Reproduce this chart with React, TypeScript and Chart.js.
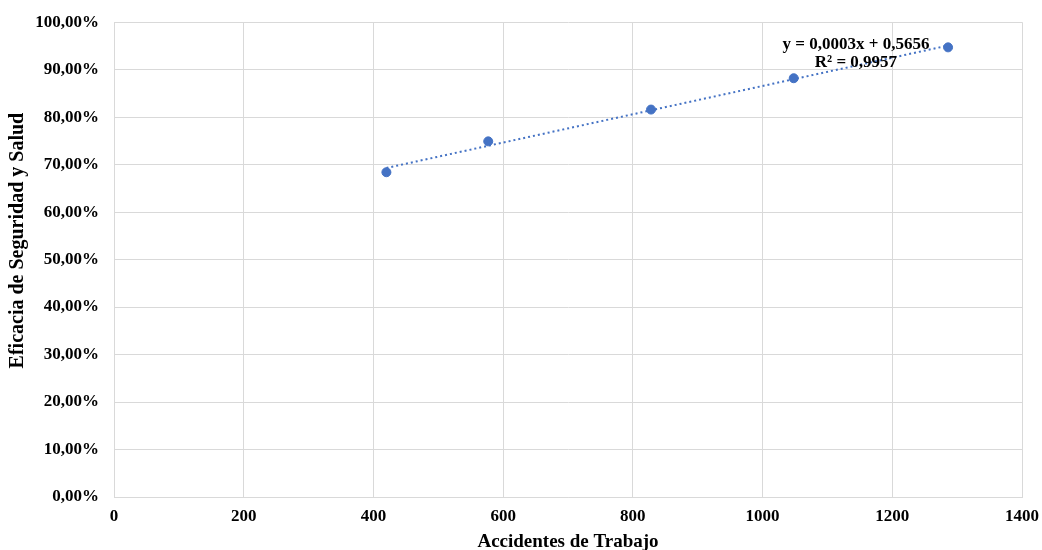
import React, { useEffect, useRef } from "react";
import { Chart, registerables } from "chart.js";

Chart.register(...registerables);

const accidentes = [420, 577, 828, 1048, 1286];
const eficacia = [0.684, 0.749, 0.816, 0.882, 0.947];
const trendLabel = ["y = 0,0003x + 0,5656", "R² = 0,9957"];
const xTitle = "Accidentes de Trabajo";
const yTitle = "Eficacia de Seguridad y Salud";

const BLUE = "#4472C4";
const GRID = "#d9d9d9";
const FONT = "'Liberation Serif', 'Times New Roman', serif";

function regression(xs: number[], ys: number[]) {
  const n = xs.length;
  const mx = xs.reduce((a, b) => a + b, 0) / n;
  const my = ys.reduce((a, b) => a + b, 0) / n;
  let sxy = 0, sxx = 0;
  for (let i = 0; i < n; i++) {
    sxy += (xs[i] - mx) * (ys[i] - my);
    sxx += (xs[i] - mx) ** 2;
  }
  const m = sxy / sxx;
  return { m, b: my - m * mx };
}

export default function App() {
  const ref = useRef<HTMLCanvasElement>(null);
  useEffect(() => {
    if (!ref.current) return;
    const { m, b } = regression(accidentes, eficacia);
    const x0 = Math.min(...accidentes);
    const x1 = Math.max(...accidentes);
    const labelPlugin = {
      id: "trendLabel",
      afterDatasetsDraw(chart: any) {
        const ctx = chart.ctx;
        const xs = chart.scales.x;
        const ys = chart.scales.y;
        const cx = xs.getPixelForValue(1144);
        const cy = ys.getPixelForValue(0.952);
        ctx.save();
        ctx.font = `bold 17px ${FONT}`;
        ctx.fillStyle = "#000";
        ctx.textAlign = "center";
        ctx.textBaseline = "middle";
        ctx.fillText(trendLabel[0], cx, cy);
        ctx.fillText(trendLabel[1], cx, cy + 18);
        // y axis title
        const ty = ys.getPixelForValue(0.54);
        ctx.translate(18, ty);
        ctx.rotate(-Math.PI / 2);
        ctx.font = `bold 20px ${FONT}`;
        ctx.fillText(yTitle, 0, 0);
        ctx.restore();
      },
    };
    const chart = new Chart(ref.current, {
      type: "scatter",
      data: {
        datasets: [
          {
            label: "Tendencia",
            data: [
              { x: x0, y: m * x0 + b },
              { x: x1, y: m * x1 + b },
            ],
            showLine: true,
            borderColor: BLUE,
            borderWidth: 2,
            borderDash: [2, 3],
            pointRadius: 0,
            order: 2,
          },
          {
            label: "Datos",
            data: accidentes.map((x, i) => ({ x, y: eficacia[i] })),
            backgroundColor: BLUE,
            borderColor: BLUE,
            pointRadius: 4.5,
            order: 1,
          },
        ],
      },
      options: {
        animation: false,
        responsive: false,
        layout: { padding: { top: 6, right: 0, left: 6, bottom: 0 } },
        plugins: { legend: { display: false }, tooltip: { enabled: false } },
        scales: {
          x: {
            type: "linear",
            min: 0,
            max: 1400,
            afterFit: (s: any) => { s.height = 56; },
            ticks: {
              stepSize: 200,
              color: "#000",
              font: { family: FONT, size: 17, weight: "bold" },
              padding: 9,
              callback: (v: any) => String(v),
            },
            grid: { color: GRID, drawTicks: false },
            border: { color: GRID },
            title: {
              display: true,
              text: xTitle,
              color: "#000",
              font: { family: FONT, size: 19, weight: "bold" },
              padding: { top: 3, bottom: 0 },
            },
          },
          y: {
            min: 0,
            max: 1,
            afterFit: (s: any) => { s.width = 108; },
            ticks: {
              stepSize: 0.1,
              color: "#000",
              font: { family: FONT, size: 17, weight: "bold" },
              padding: 15,
              callback: (v: any) => (Number(v) * 100).toFixed(2).replace(".", ",") + "%",
            },
            grid: { color: GRID, drawTicks: false },
            border: { color: GRID },
            title: { display: false, text: yTitle },
          },
        },
      },
      plugins: [labelPlugin],
    });
    return () => chart.destroy();
  }, []);
  return (
    <div style={{ position: "fixed", left: 0, top: 0, width: 1042, height: 550, overflow: "hidden", background: "#fff" }}>
      <canvas ref={ref} width={1048} height={556} style={{ display: "block", marginTop: -3 }} />
    </div>
  );
}
